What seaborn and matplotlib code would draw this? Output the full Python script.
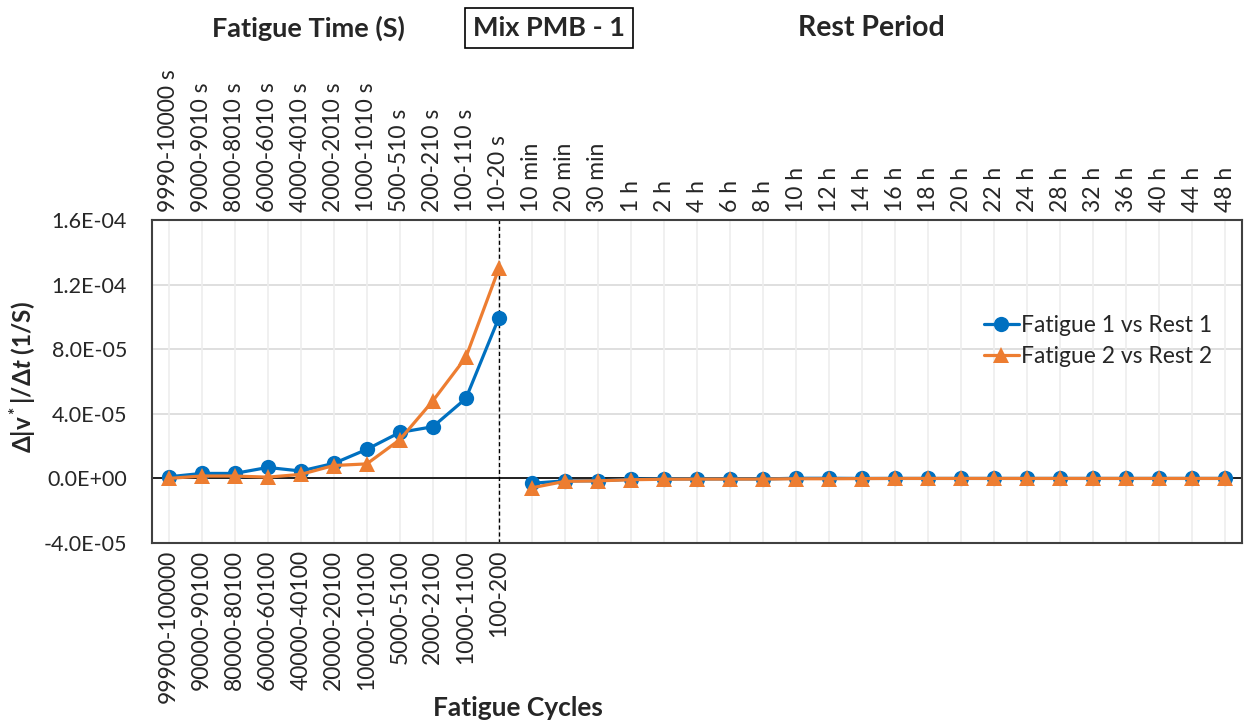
import matplotlib
matplotlib.use("Agg")
import matplotlib.pyplot as plt
import seaborn as sns
import numpy as np
import pandas as pd

# x categories
fatigue_time = ["9990-10000 s", "9000-9010 s", "8000-8010 s", "6000-6010 s", "4000-4010 s",
                "2000-2010 s", "1000-1010 s", "500-510 s", "200-210 s", "100-110 s", "10-20 s"]
rest_time = ["10 min", "20 min", "30 min", "1 h", "2 h", "4 h", "6 h", "8 h", "10 h", "12 h",
             "14 h", "16 h", "18 h", "20 h", "22 h", "24 h", "28 h", "32 h", "36 h", "40 h",
             "44 h", "48 h"]
fatigue_cycles = ["99900-100000", "90000-90100", "80000-80100", "60000-60100", "40000-40100",
                  "20000-20100", "10000-10100", "5000-5100", "2000-2100", "1000-1100", "100-200"]

# series values
fatigue1 = [1.0e-6, 3.1e-6, 3.1e-6, 6.8e-6, 4.6e-6, 9.3e-6, 1.8e-5, 2.85e-5, 3.2e-5, 4.95e-5, 9.95e-5]
fatigue2 = [0.0, 1.5e-6, 1.5e-6, 0.8e-6, 2.5e-6, 8.0e-6, 9.0e-6, 2.4e-5, 4.8e-5, 7.5e-5, 1.3e-4]
rest1 = [-3.0e-6, -1.5e-6, -1.5e-6, -0.5e-6, -0.3e-6, -0.3e-6, -0.3e-6, -0.3e-6, 0.1e-6, 0.1e-6,
         0.0, 0.0, 0.0, 0.0, 0.0, 0.0, 0.0, 0.0, 0.0, 0.0, 0.0, 0.0]
rest2 = [-5.8e-6, -1.8e-6, -1.5e-6, -0.8e-6, -0.5e-6, -0.4e-6, -0.4e-6, -0.4e-6, -0.2e-6, -0.2e-6,
         -0.1e-6, 0.0, 0.0, 0.0, 0.0, 0.0, 0.0, 0.0, 0.0, 0.0, 0.0, 0.0]

s1 = "Fatigue 1 vs Rest 1"
s2 = "Fatigue 2 vs Rest 2"

top_labels = fatigue_time + rest_time
nf = len(fatigue_time)
pos_f = list(range(nf))
pos_r = list(range(nf, len(top_labels)))

rows = []
for name, fv, rv in [(s1, fatigue1, rest1), (s2, fatigue2, rest2)]:
    rows += [dict(pos=p, val=v, series=name, seg="fatigue") for p, v in zip(pos_f, fv)]
    rows += [dict(pos=p, val=v, series=name, seg="rest") for p, v in zip(pos_r, rv)]
df = pd.DataFrame(rows)

sns.set_theme(style="white")
plt.rcParams["font.family"] = ["Lato", "DejaVu Sans"]
plt.rcParams["mathtext.fontset"] = "custom"
plt.rcParams["mathtext.rm"] = "Lato:bold"
plt.rcParams["mathtext.it"] = "Lato:italic:bold"

fig = plt.figure(figsize=(12.47, 7.26), dpi=100)
ax = fig.add_axes([0.122, 0.252, 0.874, 0.445])

palette = {s1: "#0070C0", s2: "#ED7D31"}
sns.lineplot(data=df, x="pos", y="val", hue="series", style="series", units="seg",
             estimator=None, palette=palette, markers={s1: "o", s2: "^"}, dashes=False,
             linewidth=2.3, markersize=11, markeredgewidth=0, ax=ax)

ax.set_xlim(-0.5, len(top_labels) - 0.5)
ax.set_ylim(-4e-5, 1.6e-4)
yt = np.arange(-4e-5, 1.61e-4, 4e-5)
ax.set_yticks(yt)
ax.set_yticklabels([f"{v:.1E}" for v in yt], fontsize=15.5)

# grid
for y in yt:
    ax.axhline(y, color="#d9d9d9", lw=1.2, zorder=0)
for x in range(len(top_labels)):
    ax.axvline(x, color="#eeeeee", lw=1.2, zorder=0)
ax.axhline(0, color="black", lw=1.2, zorder=1)
ax.axvline(nf - 1, color="black", lw=1.0, ls=(0, (3, 2)), zorder=1)

# bottom tick labels: fatigue cycles only
ax.set_xticks(range(len(top_labels)))
ax.set_xticklabels(fatigue_cycles + [""] * len(rest_time), rotation=90, fontsize=16.5)
ax.tick_params(axis="x", length=0, pad=5)
ax.tick_params(axis="y", length=0, pad=18)

# top tick labels
sec = ax.secondary_xaxis("top")
sec.set_xticks(range(len(top_labels)))
sec.set_xticklabels(top_labels, rotation=90, fontsize=16.5)
sec.tick_params(length=0, pad=6)
for sp in sec.spines.values():
    sp.set_visible(False)

for sp in ax.spines.values():
    sp.set_visible(True)
    sp.set_color("#404040")
    sp.set_linewidth(1.5)

ax.set_xlabel("")
ax.set_ylabel("")
fig.text(0.018, 0.48, r"Δ|v$^*$|/Δ$t$ (1/S)", fontsize=17.5, fontweight="bold",
         rotation=90, ha="center", va="center")

fig.text(0.415, 0.025, "Fatigue Cycles", fontsize=19, fontweight="bold", ha="center", va="center")
fig.text(0.247, 0.961, "Fatigue Time (S)", fontsize=19.5, fontweight="bold", ha="center", va="center")
fig.text(0.699, 0.961, "Rest Period", fontsize=20.5, fontweight="bold", ha="center", va="center")
fig.text(0.440, 0.961, "Mix PMB - 1", fontsize=19.5, fontweight="bold", ha="center", va="center",
         bbox=dict(boxstyle="square,pad=0.3", fc="white", ec="black", lw=1.2))

leg = ax.legend(loc="upper left", bbox_to_anchor=(0.755, 0.735), frameon=False, fontsize=16.5,
                handlelength=1.5, handletextpad=0.1, borderaxespad=0, labelspacing=0.45)

fig.savefig("out.png", dpi=100)
